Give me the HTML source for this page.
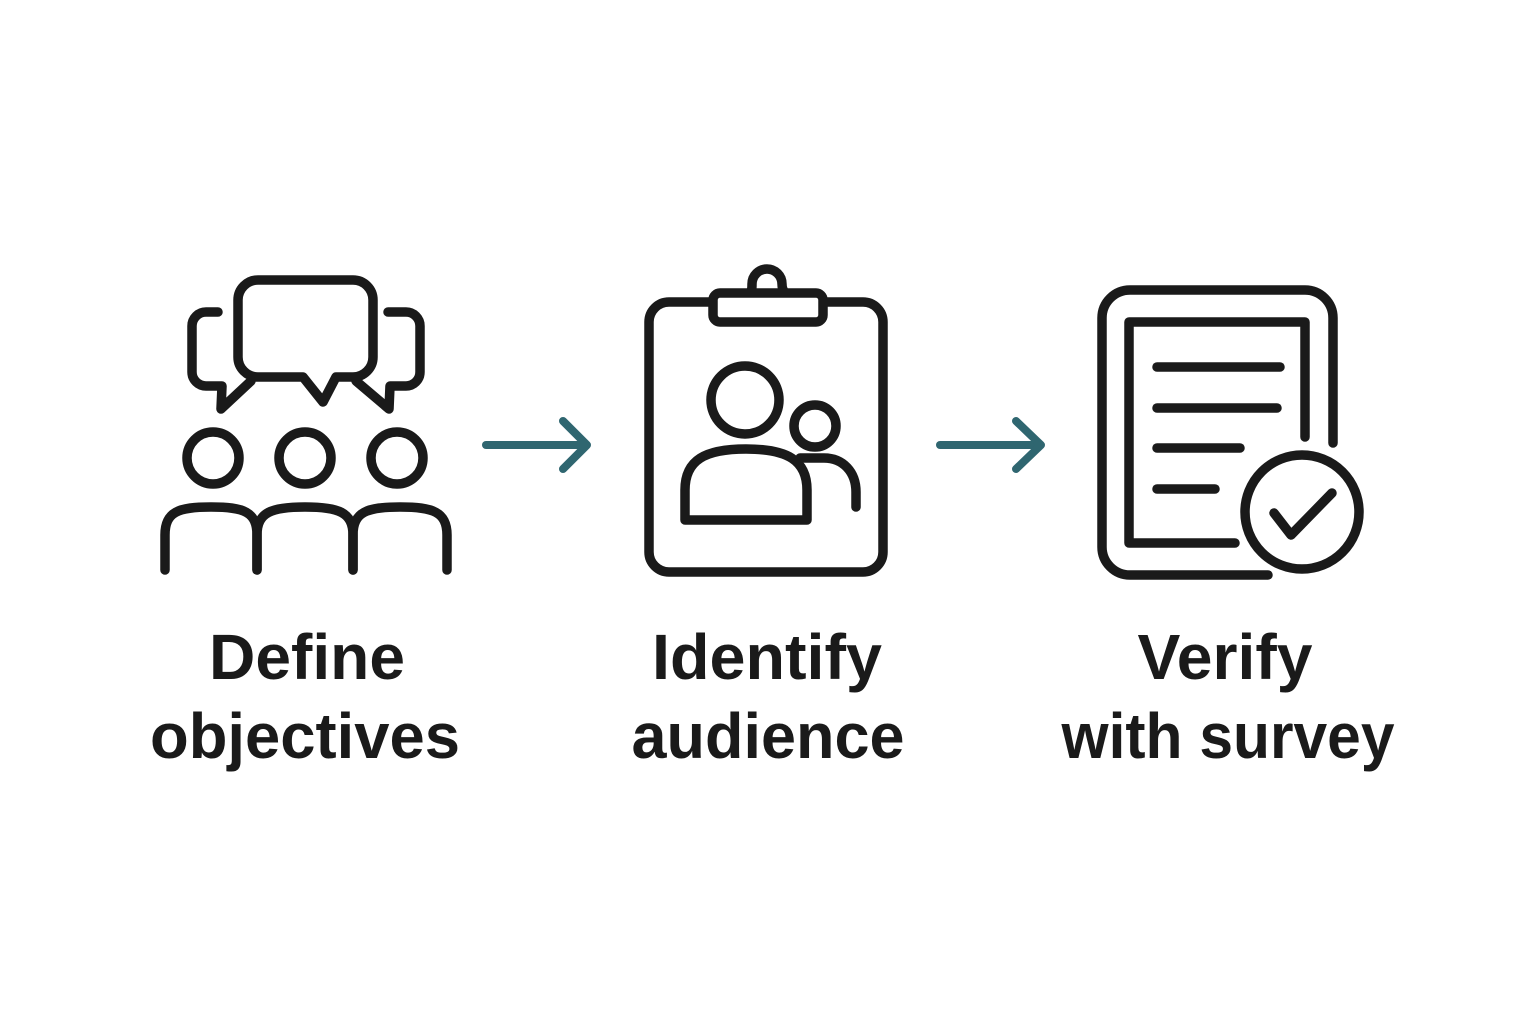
<!DOCTYPE html>
<html>
<head>
<meta charset="utf-8">
<style>
  html,body{margin:0;padding:0;background:#fff;}
  svg{display:block;}
  text{font-family:"Liberation Sans", Arial, sans-serif;font-weight:bold;fill:#1a1a1a;}
</style>
</head>
<body>
<svg width="1536" height="1024" viewBox="0 0 1536 1024" xmlns="http://www.w3.org/2000/svg">
  <rect width="1536" height="1024" fill="#ffffff"/>

  <!-- Icon 1: people with speech bubbles -->
  <g fill="none" stroke="#1a1a1a" stroke-width="9.5" stroke-linecap="round" stroke-linejoin="round">
    <path d="M258,280 H353 A20,20 0 0 1 373,300 V357 A20,20 0 0 1 353,377 H336 L323,402 L303,377 H258 A20,20 0 0 1 238,357 V300 A20,20 0 0 1 258,280 Z"/>
    <path d="M218,312 H206 A14,14 0 0 0 192,326 V372 A14,14 0 0 0 206,386 H222 L221,409 L251,381"/>
    <path d="M388,312 H406 A14,14 0 0 1 420,326 V372 A14,14 0 0 1 406,386 H390 L389,409 L356,381"/>
    <circle cx="213" cy="458" r="26"/>
    <circle cx="305" cy="458" r="26"/>
    <circle cx="397" cy="458" r="26"/>
    <path d="M165,570 V535 C165,512 178,507 211,507 C244,507 257,512 257,535 V570"/>
    <path d="M257,570 V535 C257,512 272,507 305,507 C338,507 353,512 353,535 V570"/>
    <path d="M353,570 V535 C353,512 367,507 400,507 C433,507 447,512 447,535 V570"/>
  </g>

  <!-- Arrow 1 -->
  <g fill="none" stroke="#2f6670" stroke-width="8" stroke-linecap="round" stroke-linejoin="round">
    <path d="M486,445 H586"/>
    <path d="M563,421 L587,445 L563,469"/>
  </g>

  <!-- Icon 2: clipboard with people -->
  <g fill="none" stroke="#1a1a1a" stroke-width="9.5" stroke-linecap="round" stroke-linejoin="round">
    <rect x="649" y="302" width="234" height="270" rx="20"/>
    <path d="M750,293 C752,290 752,288 752,284 A15,15 0 0 1 782,284 C782,288 783,290 785,293" fill="#ffffff"/>
    <rect x="713" y="293" width="110" height="29" rx="7" fill="#ffffff"/>
    <circle cx="745" cy="400" r="34"/>
    <circle cx="815" cy="426" r="21"/>
    <path d="M685,520 V490 C685,460 705,449 746,449 C787,449 807,460 807,490 V520 Z"/>
    <path d="M800,458 H824 C843,458 856,472 856,492 V507"/>
  </g>

  <!-- Arrow 2 -->
  <g fill="none" stroke="#2f6670" stroke-width="8" stroke-linecap="round" stroke-linejoin="round">
    <path d="M940,445 H1040"/>
    <path d="M1016,421 L1041,445 L1016,469"/>
  </g>

  <!-- Icon 3: document with check -->
  <g fill="none" stroke="#1a1a1a" stroke-width="9.5" stroke-linecap="round" stroke-linejoin="round">
    <path d="M1333,443 V318 A28,28 0 0 0 1305,290 H1130 A28,28 0 0 0 1102,318 V547 A28,28 0 0 0 1130,575 H1268"/>
    <path d="M1305,437 V322 H1129 V543 H1235"/>
    <path d="M1157,367 H1280"/>
    <path d="M1157,408 H1277"/>
    <path d="M1157,448 H1240"/>
    <path d="M1157,489 H1215"/>
    <circle cx="1302" cy="512" r="57"/>
    <path d="M1274,513 L1291,535 L1332,493"/>
  </g>

  <!-- Labels -->
  <text x="307" y="679" font-size="64" text-anchor="middle" textLength="196" lengthAdjust="spacingAndGlyphs">Define</text>
  <text x="305" y="758" font-size="64" text-anchor="middle" textLength="310" lengthAdjust="spacingAndGlyphs">objectives</text>

  <text x="767" y="679" font-size="64" text-anchor="middle" textLength="230" lengthAdjust="spacingAndGlyphs">Identify</text>
  <text x="768" y="758" font-size="64" text-anchor="middle" textLength="273" lengthAdjust="spacingAndGlyphs">audience</text>

  <text x="1225" y="679" font-size="64" text-anchor="middle" textLength="175" lengthAdjust="spacingAndGlyphs">Verify</text>
  <text x="1228" y="758" font-size="64" text-anchor="middle" textLength="333" lengthAdjust="spacingAndGlyphs">with survey</text>
</svg>
</body>
</html>
